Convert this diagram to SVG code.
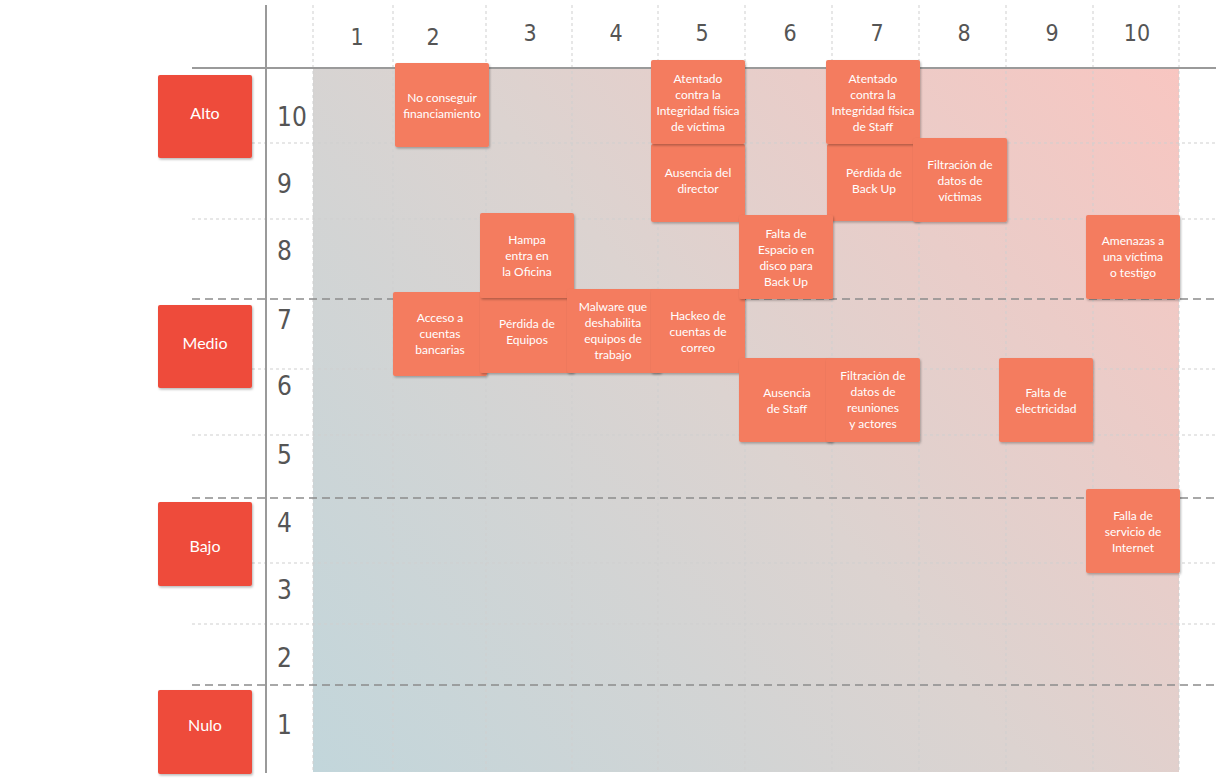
<svg xmlns="http://www.w3.org/2000/svg" width="1216" height="779" viewBox="0 0 1216 779">
<defs>
<linearGradient id="bg" gradientUnits="userSpaceOnUse" x1="313" y1="772" x2="1179" y2="68">
<stop offset="0" stop-color="#c2d6db"/>
<stop offset="0.5" stop-color="#dcd3d0"/>
<stop offset="1" stop-color="#f8c6c1"/>
</linearGradient>
<filter id="sh" x="-10%" y="-10%" width="125%" height="130%">
<feDropShadow dx="1" dy="1.5" stdDeviation="1.2" flood-color="#000" flood-opacity="0.28"/>
</filter>
<style>
.light{stroke:#cfcfcf;stroke-width:1;stroke-dasharray:3 3;fill:none}
.dark{stroke:#8c8c8c;stroke-width:1.4;stroke-dasharray:8 5;fill:none}
.axis{stroke:#9a9a9a;stroke-width:2;fill:none}
.num{font-family:"DejaVu Sans Condensed","DejaVu Sans",sans-serif;font-stretch:condensed;font-weight:normal;fill:#555}
.hnum{font-size:23px;text-anchor:middle}
.rnum{font-size:26px}
.lab rect{fill:#ee4b3b;filter:url(#sh)}
.lab text{font-family:Lato,"Open Sans",sans-serif;font-size:16px;fill:#fff;text-anchor:middle}
.note rect{fill:#f47b5e;filter:url(#sh)}
.note text{font-family:Lato,"Open Sans",sans-serif;font-size:12px;fill:#fff;text-anchor:middle}
</style>
</defs>
<rect width="1216" height="779" fill="#fff"/>
<rect x="313" y="68" width="866" height="704" fill="url(#bg)"/>
<g id="grid">
<path class="light" d="M313 5V772M393 5V772M486 5V772M572 5V772M658 5V772M745 5V772M832 5V772M919 5V772M1006 5V772M1093 5V772M1179 5V772"/>
<path class="light" d="M192 143H1216M192 219H1216M192 369H1216M192 435H1216M192 563H1216M192 624H1216"/>
<path class="dark" d="M192 299H1216M192 498H1216M192 685H1216"/>
<path class="axis" d="M266 5V773M192 68H1216"/>
</g>
<g id="col-labels" class="num hnum">
<text x="357" y="45">1</text>
<text x="433" y="45">2</text>
<text x="530" y="41">3</text>
<text x="616" y="41">4</text>
<text x="702" y="41">5</text>
<text x="790" y="41">6</text>
<text x="877" y="41">7</text>
<text x="964" y="41">8</text>
<text x="1052" y="41">9</text>
<text x="1137" y="41">10</text>
</g>
<g id="row-labels" class="num rnum">
<text x="277" y="126">10</text>
<text x="277" y="193">9</text>
<text x="277" y="260">8</text>
<text x="277" y="329">7</text>
<text x="277" y="395">6</text>
<text x="277" y="464">5</text>
<text x="277" y="532">4</text>
<text x="277" y="599">3</text>
<text x="277" y="667">2</text>
<text x="277" y="734">1</text>
</g>
<g id="lab-alto" class="lab"><rect x="158" y="75" width="94" height="83" rx="2"/><text x="205" y="119">Alto</text></g>
<g id="lab-medio" class="lab"><rect x="158" y="305" width="94" height="83" rx="2"/><text x="205" y="349">Medio</text></g>
<g id="lab-bajo" class="lab"><rect x="158" y="502" width="94" height="84" rx="2"/><text x="205" y="552">Bajo</text></g>
<g id="lab-nulo" class="lab"><rect x="158" y="690" width="94" height="84" rx="2"/><text x="205" y="731">Nulo</text></g>

<g id="n-acceso" class="note"><rect x="393" y="292" width="94" height="84" rx="2"/><text x="440" y="322"><tspan x="440">Acceso a</tspan><tspan x="440" dy="16">cuentas</tspan><tspan x="440" dy="16">bancarias</tspan></text></g>
<g id="n-perdida-equipos" class="note"><rect x="480" y="296" width="94" height="77" rx="2"/><text x="527" y="328"><tspan x="527">Pérdida de</tspan><tspan x="527" dy="16">Equipos</tspan></text></g>
<g id="n-hampa" class="note"><rect x="480" y="213" width="94" height="85" rx="2"/><text x="527" y="244"><tspan x="527">Hampa</tspan><tspan x="527" dy="16">entra en</tspan><tspan x="527" dy="16">la Oficina</tspan></text></g>
<g id="n-malware" class="note"><rect x="567" y="289" width="94" height="84" rx="2"/><text x="613" y="311"><tspan x="613">Malware que</tspan><tspan x="613" dy="16">deshabilita</tspan><tspan x="613" dy="16">equipos de</tspan><tspan x="613" dy="16">trabajo</tspan></text></g>
<g id="n-hackeo" class="note"><rect x="651" y="289" width="94" height="84" rx="2"/><text x="698" y="320"><tspan x="698">Hackeo de</tspan><tspan x="698" dy="16">cuentas de</tspan><tspan x="698" dy="16">correo</tspan></text></g>
<g id="n-ausencia-director" class="note"><rect x="651" y="144" width="94" height="78" rx="2"/><text x="698" y="177"><tspan x="698">Ausencia del</tspan><tspan x="698" dy="16">director</tspan></text></g>
<g id="n-atentado-victima" class="note"><rect x="651" y="60" width="94" height="84" rx="2"/><text x="698" y="83"><tspan x="698">Atentado</tspan><tspan x="698" dy="16">contra la</tspan><tspan x="698" dy="16">Integridad física</tspan><tspan x="698" dy="16">de víctima</tspan></text></g>
<g id="n-perdida-backup" class="note"><rect x="827" y="144" width="93" height="77" rx="2"/><text x="874" y="177"><tspan x="874">Pérdida de</tspan><tspan x="874" dy="16">Back Up</tspan></text></g>
<g id="n-atentado-staff" class="note"><rect x="826" y="60" width="94" height="84" rx="2"/><text x="873" y="83"><tspan x="873">Atentado</tspan><tspan x="873" dy="16">contra la</tspan><tspan x="873" dy="16">Integridad física</tspan><tspan x="873" dy="16">de Staff</tspan></text></g>
<g id="n-filtracion-victimas" class="note"><rect x="913" y="138" width="94" height="84" rx="2"/><text x="960" y="169"><tspan x="960">Filtración de</tspan><tspan x="960" dy="16">datos de</tspan><tspan x="960" dy="16">víctimas</tspan></text></g>
<g id="n-falta-espacio" class="note"><rect x="739" y="215" width="94" height="84" rx="2"/><text x="786" y="238"><tspan x="786">Falta de</tspan><tspan x="786" dy="16">Espacio en</tspan><tspan x="786" dy="16">disco para</tspan><tspan x="786" dy="16">Back Up</tspan></text></g>
<g id="n-ausencia-staff" class="note"><rect x="739" y="358" width="94" height="84" rx="2"/><text x="787" y="397"><tspan x="787">Ausencia</tspan><tspan x="787" dy="16">de Staff</tspan></text></g>
<g id="n-filtracion-reuniones" class="note"><rect x="826" y="358" width="94" height="84" rx="2"/><text x="873" y="380"><tspan x="873">Filtración de</tspan><tspan x="873" dy="16">datos de</tspan><tspan x="873" dy="16">reuniones</tspan><tspan x="873" dy="16">y actores</tspan></text></g>
<g id="n-electricidad" class="note"><rect x="999" y="358" width="94" height="84" rx="2"/><text x="1046" y="397"><tspan x="1046">Falta de</tspan><tspan x="1046" dy="16">electricidad</tspan></text></g>
<g id="n-amenazas" class="note"><rect x="1086" y="215" width="94" height="84" rx="2"/><text x="1133" y="245"><tspan x="1133">Amenazas a</tspan><tspan x="1133" dy="16">una víctima</tspan><tspan x="1133" dy="16">o testigo</tspan></text></g>
<g id="n-internet" class="note"><rect x="1086" y="489" width="94" height="84" rx="2"/><text x="1133" y="520"><tspan x="1133">Falla de</tspan><tspan x="1133" dy="16">servicio de</tspan><tspan x="1133" dy="16">Internet</tspan></text></g>
<g id="n-financiamiento" class="note"><rect x="395" y="63" width="94" height="84" rx="2"/><text x="442" y="102"><tspan x="442">No conseguir</tspan><tspan x="442" dy="16">financiamiento</tspan></text></g>
<g id="connectors"/>
</svg>
